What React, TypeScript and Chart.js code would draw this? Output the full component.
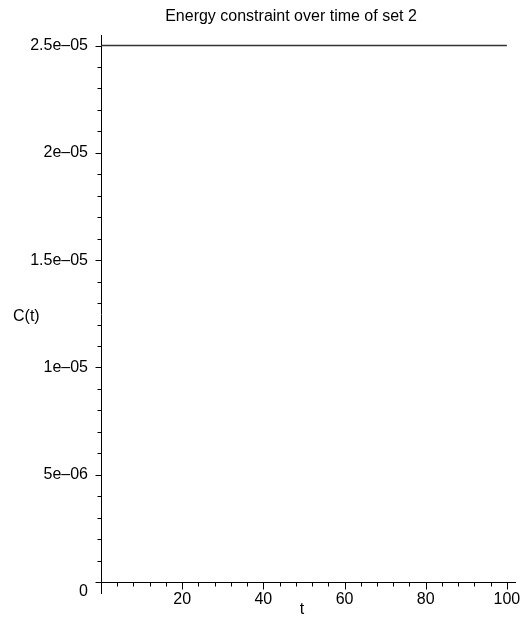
import React, { useEffect, useRef } from "react";
import { Chart, registerables } from "chart.js";

Chart.register(...registerables);

// Energy constraint C(t) for set 2, sampled over time
const tValues = [0, 10, 20, 30, 40, 50, 60, 70, 80, 90, 100];
const cValues = [
  2.5e-5, 2.5e-5, 2.5e-5, 2.5e-5, 2.5e-5, 2.5e-5, 2.5e-5, 2.5e-5, 2.5e-5, 2.5e-5, 2.5e-5,
];

// Axis ticks
const xMajorTicks = [20, 40, 60, 80, 100];
const xMinorTicks = [4, 8, 12, 16, 24, 28, 32, 36, 44, 48, 52, 56, 64, 68, 72, 76, 84, 88, 92, 96];
const yMajorTicks = [0, 5e-6, 1e-5, 1.5e-5, 2e-5, 2.5e-5];
const yTickLabels = ["0", "5e–06", "1e–05", "1.5e–05", "2e–05", "2.5e–05"];
const yMinorTicks = [
  1e-6, 2e-6, 3e-6, 4e-6, 6e-6, 7e-6, 8e-6, 9e-6, 1.1e-5, 1.2e-5, 1.3e-5, 1.4e-5,
  1.6e-5, 1.7e-5, 1.8e-5, 1.9e-5, 2.1e-5, 2.2e-5, 2.3e-5, 2.4e-5,
];

const titleText = "Energy constraint over time of set 2";
const xAxisTitle = "t";
const yAxisTitle = "C(t)";

const FONT = "'Liberation Sans', Arial, Helvetica, sans-serif";

// Tick marks (major and minor) plus the title and axis captions
const decorations = {
  id: "decorations",
  afterDraw(chart: any) {
    const { ctx, scales, chartArea } = chart;
    const xs = scales.x;
    const ys = scales.y;
    const y0 = Math.round(ys.getPixelForValue(0)) + 0.5;
    const x0 = Math.round(chartArea.left) + 0.5;
    ctx.save();
    ctx.strokeStyle = "#000";
    ctx.lineWidth = 1;
    ctx.beginPath();
    const xTick = (v: number, len: number) => {
      const px = Math.round(xs.getPixelForValue(v)) + 0.5;
      ctx.moveTo(px, y0);
      ctx.lineTo(px, y0 + len);
    };
    const yTick = (v: number, len: number) => {
      const py = Math.round(ys.getPixelForValue(v)) + 0.5;
      ctx.moveTo(x0 - len, py);
      ctx.lineTo(x0, py);
    };
    xMajorTicks.forEach((v) => xTick(v, 7));
    xMinorTicks.forEach((v) => xTick(v, 4));
    yMajorTicks.forEach((v) => yTick(v, 6));
    yMinorTicks.forEach((v) => yTick(v, 4));
    ctx.stroke();

    ctx.fillStyle = "#000";
    ctx.font = `16px ${FONT}`;
    ctx.textBaseline = "alphabetic";
    ctx.textAlign = "center";
    ctx.fillText(titleText, 291, 21);
    ctx.fillText(xAxisTitle, 302, 614);
    ctx.textAlign = "left";
    ctx.fillText(yAxisTitle, 13, 321);
    ctx.restore();
  },
};

export default function App() {
  const canvasRef = useRef<HTMLCanvasElement | null>(null);

  useEffect(() => {
    const canvas = canvasRef.current;
    if (!canvas) return;
    const chart = new Chart(canvas, {
      type: "line",
      data: {
        datasets: [
          {
            data: tValues.map((t, i) => ({ x: t, y: cValues[i] })),
            borderColor: "#333",
            borderWidth: 1.5,
            pointRadius: 0,
            fill: false,
            tension: 0,
          },
        ],
      },
      options: {
        animation: false,
        responsive: false,
        devicePixelRatio: 1,
        layout: { padding: { top: 35, right: 6, bottom: 24, left: 0 } },
        plugins: {
          legend: { display: false },
          tooltip: { enabled: false },
          title: { display: false },
        },
        scales: {
          x: {
            type: "linear",
            min: 0,
            max: 102,
            position: { y: 0 } as any,
            grid: { display: false, drawTicks: false },
            border: { display: true, color: "#000", width: 1 },
            afterBuildTicks: (s: any) => {
              s.ticks = xMajorTicks.map((v) => ({ value: v }));
            },
            afterFit: (s: any) => {
              s.paddingLeft = 0;
              s.paddingRight = 0;
            },
            ticks: {
              color: "#000",
              padding: 8,
              autoSkip: false,
              maxRotation: 0,
              font: { family: FONT, size: 16 },
              callback: (v: any) => String(v),
            },
          },
          y: {
            type: "linear",
            min: -5.1e-7,
            max: 2.549e-5,
            position: "left",
            grid: { display: false, drawTicks: false },
            border: { display: true, color: "#000", width: 1 },
            afterFit: (s: any) => {
              s.width = 101;
              s.paddingTop = 0;
              s.paddingBottom = 0;
            },
            afterBuildTicks: (s: any) => {
              s.ticks = yMajorTicks.map((v) => ({ value: v }));
            },
            ticks: {
              color: "#000",
              padding: 13,
              autoSkip: false,
              font: { family: FONT, size: 16 },
              callback: (_v: any, i: number) => (i === 0 ? ["", yTickLabels[0]] : yTickLabels[i]),
            },
          },
        },
      },
      plugins: [decorations],
    });
    return () => chart.destroy();
  }, []);

  return (
    <div style={{ position: "fixed", left: 0, top: 0, width: 521, height: 617, background: "#fff" }}>
      <canvas ref={canvasRef} width={521} height={617} style={{ display: "block" }} />
    </div>
  );
}
